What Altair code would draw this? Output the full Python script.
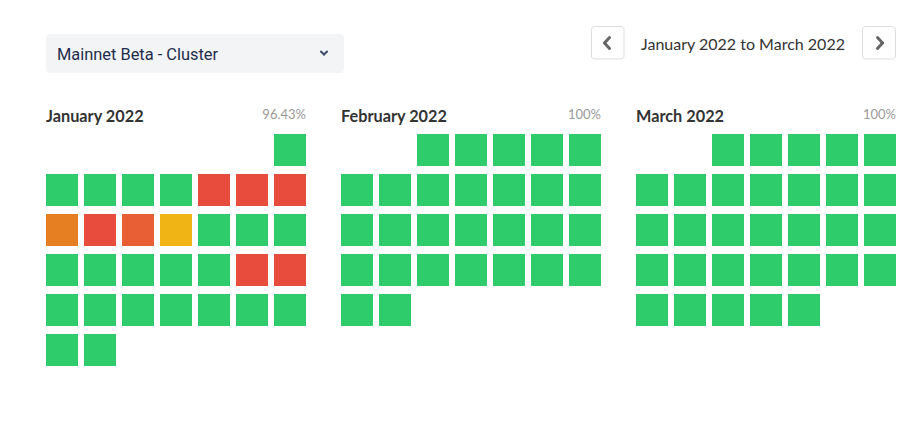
import altair as alt
import pandas as pd

# ---- data ----
months = ["January 2022", "February 2022", "March 2022"]
uptime = ["96.43%", "100%", "100%"]
days_in_month = [31, 28, 31]
first_weekday = [6, 2, 2]  # 0 = Sunday
jan_status = (
    ["ok"] * 5 + ["major"] * 3 +
    ["partial", "major", "partial_major", "minor"] +
    ["ok"] * 8 + ["major"] * 2 +
    ["ok"] * 9
)
feb_status = ["ok"] * 28
mar_status = ["ok"] * 31
status_by_month = [jan_status, feb_status, mar_status]

status_domain = ["ok", "minor", "partial", "partial_major", "major"]
status_colors = ["#2ecc6a", "#f0b514", "#e67e22", "#e85f35", "#e74c3c"]

rows = []
for m in range(3):
    for d in range(days_in_month[m]):
        idx = first_weekday[m] + d
        rows.append({"m": m, "day": d + 1, "col": idx % 7, "week": idx // 7,
                     "status": status_by_month[m][d]})
cells = pd.DataFrame(rows)
heads = pd.DataFrame({"m": [0, 1, 2], "name": months, "uptime": uptime})

W, H = 898, 411
xs = alt.Scale(domain=[0, W], nice=False, zero=False)
ys = alt.Scale(domain=[0, H], nice=False, zero=False, reverse=True)

MONTH_X0, MONTH_DX, STEP_X, STEP_Y, CELL, TOP = 38, 295, 38, 40, 32, 126

grid = alt.Chart(cells).transform_calculate(
    x=f"{MONTH_X0} + datum.m*{MONTH_DX} + datum.col*{STEP_X}",
    x2=f"datum.x + {CELL}",
    y=f"{TOP} + datum.week*{STEP_Y}",
    y2=f"datum.y + {CELL}",
).mark_rect().encode(
    x=alt.X("x:Q", scale=xs, axis=None),
    x2="x2:Q",
    y=alt.Y("y:Q", scale=ys, axis=None),
    y2="y2:Q",
    color=alt.Color("status:N", scale=alt.Scale(domain=status_domain, range=status_colors), legend=None),
)

titles = alt.Chart(heads).transform_calculate(
    x=f"{MONTH_X0} + datum.m*{MONTH_DX}", y="114"
).mark_text(align="left", baseline="alphabetic", font="Lato", fontSize=16.3,
            fontWeight="bold", color="#333333").encode(
    x=alt.X("x:Q", scale=xs, axis=None), y=alt.Y("y:Q", scale=ys, axis=None), text="name:N")

pcts = alt.Chart(heads).transform_calculate(
    x=f"{MONTH_X0} + datum.m*{MONTH_DX} + 6*{STEP_X} + {CELL}", y="111"
).mark_text(align="right", baseline="alphabetic", font="Lato", fontSize=13,
            color="#9a9a9a").encode(
    x=alt.X("x:Q", scale=xs, axis=None), y=alt.Y("y:Q", scale=ys, axis=None), text="uptime:N")

one = alt.Data(values=[{"k": 1}])

def box(x, x2, y, y2, fill, stroke=None, r=3):
    kw = dict(fill=fill, cornerRadius=r)
    if stroke:
        kw.update(stroke=stroke, strokeWidth=1)
    return alt.Chart(one).mark_rect(**kw).encode(
        x=alt.value(x), x2=alt.value(x2), y=alt.value(y), y2=alt.value(y2))

def seg(x, y, x2, y2, color, w):
    return alt.Chart(one).mark_rule(color=color, strokeWidth=w, strokeCap="round").encode(
        x=alt.value(x), y=alt.value(y), x2=alt.value(x2), y2=alt.value(y2))

def label(x, y, txt, size, color, align="left", font="Roboto", weight="normal"):
    return alt.Chart(one).mark_text(align=align, baseline="alphabetic", fontSize=size,
                                    color=color, font=font, fontWeight=weight, text=txt).encode(
        x=alt.value(x), y=alt.value(y))

deco = [
    box(38, 336, 26, 65, "#f3f4f6", r=4),
    label(49, 52, "Mainnet Beta - Cluster", 16.4, "#1f2d4d"),
    seg(313, 43.5, 316, 46.5, "#3b4a66", 2),
    seg(316, 46.5, 319, 43.5, "#3b4a66", 2),
    box(583.5, 616, 18.5, 51, "#ffffff", "#dddddd"),
    box(854.5, 887.5, 18.5, 51, "#ffffff", "#dddddd"),
    seg(601.5, 29.5, 596.5, 35, "#666666", 3),
    seg(596.5, 35, 601.5, 40.5, "#666666", 3),
    seg(869.5, 29.5, 874.5, 35, "#666666", 3),
    seg(874.5, 35, 869.5, 40.5, "#666666", 3),
    label(735, 41.5, "January 2022 to March 2022", 16, "#333333", align="center", font="Lato"),
]

chart = alt.layer(grid, titles, pcts, *deco).properties(
    width=W, height=H, padding=0,
    autosize=alt.AutoSizeParams(type="none"),
).configure_view(stroke=None)

chart.save("out.html", embed_options={"renderer": "svg", "actions": False})
